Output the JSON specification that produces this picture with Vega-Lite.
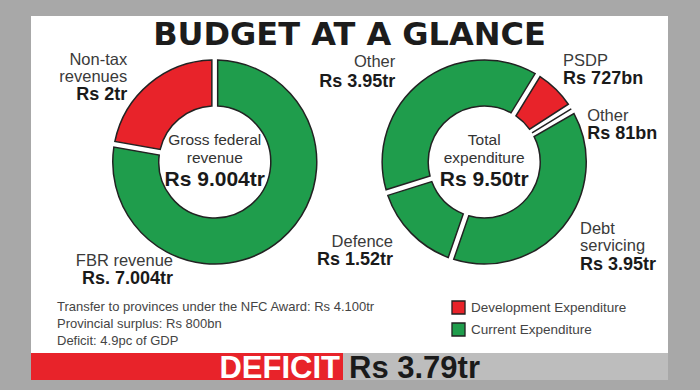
{
  "$schema": "https://vega.github.io/schema/vega-lite/v6.json",
  "background": "#a8a8a8",
  "padding": {"left": 31, "top": 16, "right": 32, "bottom": 10},
  "bounds": "flush",
  "spacing": 0,
  "config": {"view": {"fill": "white", "stroke": null}, "text": {"font": "Liberation Sans"}},
  "datasets": {
    "heading": [{"title": "BUDGET AT A GLANCE"}],
    "revenue": [
      {"panel": "Gross federal revenue", "seq": 1, "item": "FBR revenue", "label": "FBR revenue", "amount": "Rs. 7.004tr", "tr": 7.004},
      {"panel": "Gross federal revenue", "seq": 2, "item": "Non-tax revenues", "label": "Non-tax\nrevenues", "amount": "Rs 2tr", "tr": 2}
    ],
    "expenditure": [
      {"panel": "Total expenditure", "seq": 1, "item": "Debt servicing", "label": "Debt\nservicing", "category": "Current Expenditure", "amount": "Rs 3.95tr", "tr": 3.95},
      {"panel": "Total expenditure", "seq": 2, "item": "Defence", "label": "Defence", "category": "Current Expenditure", "amount": "Rs 1.52tr", "tr": 1.52},
      {"panel": "Total expenditure", "seq": 3, "item": "Other current", "label": "Other", "category": "Current Expenditure", "amount": "Rs 3.95tr", "tr": 3.95},
      {"panel": "Total expenditure", "seq": 4, "item": "PSDP", "label": "PSDP", "category": "Development Expenditure", "amount": "Rs 727bn", "tr": 0.727},
      {"panel": "Total expenditure", "seq": 5, "item": "Other development", "label": "Other", "category": "Development Expenditure", "amount": "Rs 81bn", "tr": 0.081}
    ],
    "totals": [
      {"panel": "Gross federal revenue", "heading": "Gross federal\nrevenue", "total": "Rs 9.004tr"},
      {"panel": "Total expenditure", "heading": "Total\nexpenditure", "total": "Rs 9.50tr"}
    ],
    "notes": [
      {"note": "Transfer to provinces under the NFC Award: Rs 4.100tr"},
      {"note": "Provincial surplus: Rs 800bn"},
      {"note": "Deficit: 4.9pc of GDP"}
    ],
    "deficit": [{"label": "DEFICIT", "amount": "Rs 3.79tr"}]
  },
  "vconcat": [
    {
      "width": 637,
      "height": 292,
      "resolve": {"scale": {"theta": "independent"}},
      "layer": [
        {
          "data": {"name": "heading"},
          "mark": {"type": "text", "y": 0, "dy": 29, "align": "center", "baseline": "alphabetic", "font": "DejaVu Sans", "fontSize": 32, "fontWeight": "bold", "color": "#1c1c1c"},
          "encoding": {"text": {"field": "title"}}
        },
        {
          "data": {"name": "revenue"},
          "encoding": {
            "x": {"field": "panel", "type": "nominal", "axis": null, "scale": {"type": "point", "domain": ["Gross federal revenue", "Total expenditure"], "padding": 0.682}},
            "theta": {"field": "tr", "type": "quantitative", "stack": "normalize"},
            "order": {"field": "seq", "type": "quantitative"},
            "detail": {"field": "item"}
          },
          "layer": [
            {"mark": {"type": "arc", "innerRadius": 56, "outerRadius": 102, "padAngle": 0.05, "stroke": "#222", "strokeWidth": 1.5},
             "encoding": {"color": {"condition": {"test": "datum.item === 'Non-tax revenues'", "value": "#e8232a"}, "value": "#1f9d4c"}}},
            {"mark": {"type": "text", "radius": 130, "align": "right", "baseline": "alphabetic", "dx": -4, "dy": 3, "fontSize": 16.5, "color": "#3a3a3a", "lineBreak": "\n", "lineHeight": 17},
             "encoding": {"text": {"condition": {"test": "datum.item === 'Non-tax revenues'", "field": "label"}, "value": ""}}},
            {"mark": {"type": "text", "radius": 130, "align": "right", "baseline": "alphabetic", "dx": -4, "dy": 38, "fontSize": 18, "fontWeight": "bold", "color": "#1a1a1a"},
             "encoding": {"text": {"condition": {"test": "datum.item === 'Non-tax revenues'", "field": "amount"}, "value": ""}}},
            {"mark": {"type": "text", "radius": 100, "align": "right", "baseline": "alphabetic", "dx": -106, "dy": 27, "fontSize": 16.5, "color": "#3a3a3a"},
             "encoding": {"text": {"condition": {"test": "datum.item === 'FBR revenue'", "field": "label"}, "value": ""}}},
            {"mark": {"type": "text", "radius": 100, "align": "right", "baseline": "alphabetic", "dx": -106, "dy": 45.5, "fontSize": 18, "fontWeight": "bold", "color": "#1a1a1a"},
             "encoding": {"text": {"condition": {"test": "datum.item === 'FBR revenue'", "field": "amount"}, "value": ""}}}
          ]
        },
        {
          "data": {"name": "expenditure"},
          "encoding": {
            "x": {"field": "panel", "type": "nominal", "axis": null, "scale": {"type": "point", "domain": ["Gross federal revenue", "Total expenditure"], "padding": 0.682}},
            "theta": {"field": "tr", "type": "quantitative", "stack": "normalize", "scale": {"range": [1.0472, 7.3304]}},
            "order": {"field": "seq", "type": "quantitative"},
            "detail": {"field": "item"}
          },
          "layer": [
            {"mark": {"type": "arc", "innerRadius": 56, "outerRadius": 102, "padAngle": 0.05, "stroke": "#222", "strokeWidth": 1.5},
             "encoding": {"color": {"field": "category", "type": "nominal",
               "scale": {"domain": ["Development Expenditure", "Current Expenditure"], "range": ["#e8232a", "#1f9d4c"]},
               "legend": {"orient": "none", "legendX": 420, "legendY": 284, "title": null, "symbolType": "square", "symbolSize": 170, "symbolStrokeColor": "#222", "symbolStrokeWidth": 1.3, "labelFont": "Liberation Sans", "labelFontSize": 13.5, "labelColor": "#444", "labelOffset": 5, "rowPadding": 3, "padding": 0}}}},
            {"mark": {"type": "text", "radius": 130, "align": "right", "baseline": "alphabetic", "dx": -9, "dy": 8, "fontSize": 16.5, "color": "#3a3a3a"},
             "encoding": {"text": {"condition": {"test": "datum.item === 'Other current'", "field": "label"}, "value": ""}}},
            {"mark": {"type": "text", "radius": 130, "align": "right", "baseline": "alphabetic", "dx": -9, "dy": 27.5, "fontSize": 18, "fontWeight": "bold", "color": "#1a1a1a"},
             "encoding": {"text": {"condition": {"test": "datum.item === 'Other current'", "field": "amount"}, "value": ""}}},
            {"mark": {"type": "text", "radius": 130, "align": "left", "baseline": "alphabetic", "dx": -12, "dy": -3.5, "fontSize": 16.5, "color": "#3a3a3a"},
             "encoding": {"text": {"condition": {"test": "datum.item === 'PSDP'", "field": "label"}, "value": ""}}},
            {"mark": {"type": "text", "radius": 130, "align": "left", "baseline": "alphabetic", "dx": -12, "dy": 14.5, "fontSize": 18, "fontWeight": "bold", "color": "#1a1a1a"},
             "encoding": {"text": {"condition": {"test": "datum.item === 'PSDP'", "field": "amount"}, "value": ""}}},
            {"mark": {"type": "text", "radius": 130, "align": "left", "baseline": "alphabetic", "dx": -8, "dy": 27, "fontSize": 16.5, "color": "#3a3a3a"},
             "encoding": {"text": {"condition": {"test": "datum.item === 'Other development'", "field": "label"}, "value": ""}}},
            {"mark": {"type": "text", "radius": 130, "align": "left", "baseline": "alphabetic", "dx": -8, "dy": 44.5, "fontSize": 18, "fontWeight": "bold", "color": "#1a1a1a"},
             "encoding": {"text": {"condition": {"test": "datum.item === 'Other development'", "field": "amount"}, "value": ""}}},
            {"mark": {"type": "text", "radius": 130, "align": "left", "baseline": "alphabetic", "dx": -4.5, "dy": -10.5, "fontSize": 16.5, "color": "#3a3a3a", "lineBreak": "\n", "lineHeight": 17},
             "encoding": {"text": {"condition": {"test": "datum.item === 'Debt servicing'", "field": "label"}, "value": ""}}},
            {"mark": {"type": "text", "radius": 130, "align": "left", "baseline": "alphabetic", "dx": -4.5, "dy": 25.5, "fontSize": 18, "fontWeight": "bold", "color": "#1a1a1a"},
             "encoding": {"text": {"condition": {"test": "datum.item === 'Debt servicing'", "field": "amount"}, "value": ""}}},
            {"mark": {"type": "text", "radius": 130, "align": "right", "baseline": "alphabetic", "dx": 2, "dy": -6, "fontSize": 16.5, "color": "#3a3a3a"},
             "encoding": {"text": {"condition": {"test": "datum.item === 'Defence'", "field": "label"}, "value": ""}}},
            {"mark": {"type": "text", "radius": 130, "align": "right", "baseline": "alphabetic", "dx": 2, "dy": 12, "fontSize": 18, "fontWeight": "bold", "color": "#1a1a1a"},
             "encoding": {"text": {"condition": {"test": "datum.item === 'Defence'", "field": "amount"}, "value": ""}}}
          ]
        },
        {
          "data": {"name": "totals"},
          "encoding": {
            "x": {"field": "panel", "type": "nominal", "axis": null, "scale": {"type": "point", "domain": ["Gross federal revenue", "Total expenditure"], "padding": 0.682}}
          },
          "layer": [
            {"mark": {"type": "text", "align": "center", "baseline": "alphabetic", "dy": -17, "fontSize": 15.5, "color": "#333", "lineBreak": "\n", "lineHeight": 18},
             "encoding": {"text": {"field": "heading"}}},
            {"mark": {"type": "text", "align": "center", "baseline": "alphabetic", "dy": 24, "fontSize": 21, "fontWeight": "bold", "color": "#1a1a1a"},
             "encoding": {"text": {"field": "total"}}}
          ]
        }
      ]
    },
    {
      "width": 637,
      "height": 45,
      "data": {"name": "notes"},
      "mark": {"type": "text", "x": 0, "dx": 26, "align": "left", "baseline": "alphabetic", "dy": -2.5, "fontSize": 13, "color": "#444"},
      "encoding": {
        "y": {"field": "note", "type": "nominal", "sort": null, "axis": null, "scale": {"type": "point", "padding": 0.324}},
        "text": {"field": "note"}
      }
    },
    {
      "spacing": 0,
      "hconcat": [
        {
          "width": 312, "height": 27,
          "view": {"fill": "#e8232a", "stroke": null},
          "data": {"name": "deficit"},
          "mark": {"type": "text", "x": "width", "align": "right", "dx": -3, "baseline": "middle", "dy": 2, "fontSize": 31, "fontWeight": "bold", "color": "white"},
          "encoding": {"text": {"field": "label"}}
        },
        {
          "width": 325, "height": 27,
          "view": {"fill": "#bdbdbd", "stroke": null},
          "data": {"name": "deficit"},
          "mark": {"type": "text", "x": 0, "align": "left", "dx": 6, "baseline": "middle", "dy": 2, "fontSize": 31, "fontWeight": "bold", "color": "#1a1a1a"},
          "encoding": {"text": {"field": "amount"}}
        }
      ]
    }
  ]
}
